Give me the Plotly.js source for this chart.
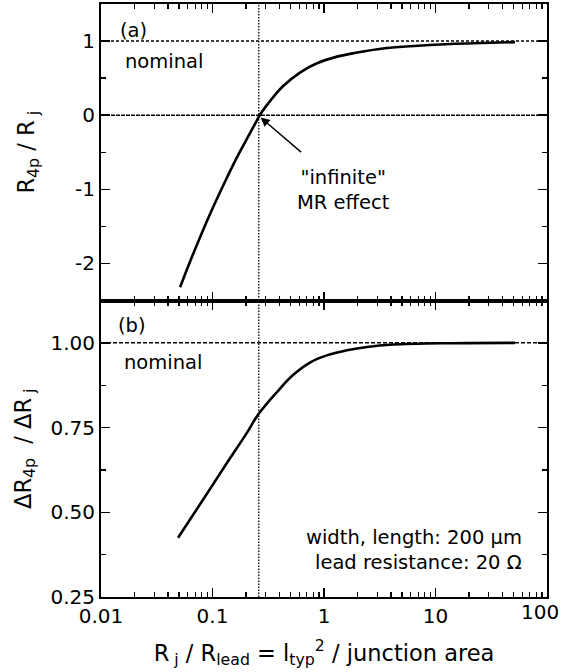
<!DOCTYPE html>
<html>
<head>
<meta charset="utf-8">
<script src="https://cdn.plot.ly/plotly-3.0.1.min.js"></script>
<style>html,body{margin:0;padding:0;background:#fff;}#chart{width:563px;height:672px;}</style>
</head>
<body>
<div id="chart"></div>
<script>
// Panel (a): R4p / Rj versus Rj / Rlead
const xA = [0.0512, 0.0631, 0.0794, 0.100, 0.126, 0.158, 0.200, 0.251, 0.265, 0.328, 0.428, 0.609, 0.865, 1.31, 1.98, 3.38, 5.9, 13.5, 51.6];
const yA = [-2.32, -1.97, -1.605, -1.26, -0.935, -0.63, -0.34, -0.065, 0.0, 0.19, 0.39, 0.575, 0.70, 0.79, 0.845, 0.90, 0.93, 0.96, 0.985];
// Panel (b): dR4p / dRj versus Rj / Rlead
const xB = [0.0491, 0.0822, 0.135, 0.204, 0.256, 0.379, 0.527, 0.748, 1.06, 1.61, 2.43, 4.16, 13.5, 51.6];
const yB = [0.425, 0.537, 0.646, 0.735, 0.788, 0.855, 0.905, 0.942, 0.963, 0.978, 0.988, 0.995, 0.999, 1.0];
// reference lines
const crossX = 0.26;          // zero crossing ("infinite" MR effect)
const nominalA = 1;           // nominal level, panel (a)
const zeroA = 0;              // zero level, panel (a)
const nominalB = 1;           // nominal level, panel (b)
const xSpan = [0.01, 100];
const ySpanA = [-2.5, 1.5];
const ySpanB = [0.25, 1.125];
// ticks
const xTickVals = [0.01, 0.1, 1, 10, 100];
const xTickText = ['0.01', '0.1', '1', '10', '100'];
const xMinorVals = [];
[0.01, 0.1, 1, 10].forEach(d => { for (let k = 2; k <= 9; k++) xMinorVals.push(d * k); });
const yTickValsA = [-2, -1, 0, 1];
const yTickTextA = ['-2', '-1', '0', '1'];
const yMinorA = [-1.5, -0.5, 0.5];
const yTickValsB = [0.25, 0.5, 0.75, 1.0];
const yTickTextB = ['0.25', '0.50', '0.75', '1.00'];
const yMinorB = [0.375, 0.625, 0.875];

const FONT = 'DejaVu Sans, Liberation Sans, Arial, sans-serif';
const black = '#000';
const TXT = 19.5;

// the last x tick label sits at the right edge of the figure; draw it right-aligned so it is not clipped
const lastIdx = xTickText.length - 1;
const shownTickText = xTickText.map((t, i) => i === lastIdx ? ' ' : t);

const traces = [
  // reference lines panel (a)
  {x: xSpan, y: [nominalA, nominalA], xaxis: 'x2', yaxis: 'y2', mode: 'lines',
   line: {color: black, width: 1.5, dash: '3px,2px'}, hoverinfo: 'skip', showlegend: false},
  {x: xSpan, y: [zeroA, zeroA], xaxis: 'x2', yaxis: 'y2', mode: 'lines',
   line: {color: black, width: 1.5, dash: '4px,1px'}, hoverinfo: 'skip', showlegend: false},
  {x: [crossX, crossX], y: ySpanA, xaxis: 'x2', yaxis: 'y2', mode: 'lines',
   line: {color: black, width: 1.3, dash: '1.5px,1.5px'}, hoverinfo: 'skip', showlegend: false},
  // reference lines panel (b)
  {x: xSpan, y: [nominalB, nominalB], xaxis: 'x', yaxis: 'y', mode: 'lines',
   line: {color: black, width: 1.5, dash: '4px,2px'}, hoverinfo: 'skip', showlegend: false},
  {x: [crossX, crossX], y: ySpanB, xaxis: 'x', yaxis: 'y', mode: 'lines',
   line: {color: black, width: 1.3, dash: '1.5px,1.5px'}, hoverinfo: 'skip', showlegend: false},
  // curves
  {x: xA, y: yA, xaxis: 'x2', yaxis: 'y2', mode: 'lines', name: 'R4p/Rj',
   line: {color: black, width: 2.6, shape: 'spline', smoothing: 1}, showlegend: false},
  {x: xB, y: yB, xaxis: 'x', yaxis: 'y', mode: 'lines', name: 'dR4p/dRj',
   line: {color: black, width: 2.6, shape: 'spline', smoothing: 1}, showlegend: false}
];

const xCommon = {
  type: 'log', range: [Math.log10(xSpan[0]), Math.log10(xSpan[1])],
  showline: true, linecolor: black, linewidth: 2, mirror: 'ticks',
  ticks: 'inside', ticklen: 9, tickwidth: 1.5, tickcolor: black,
  tickmode: 'array', tickvals: xTickVals, ticktext: shownTickText,
  minor: {tickmode: 'array', tickvals: xMinorVals, ticks: 'inside', ticklen: 5, tickwidth: 1.3, tickcolor: black, showgrid: false},
  showgrid: false, zeroline: false, tickfont: {family: FONT, size: 20, color: black}
};

const layout = {
  width: 563, height: 672,
  margin: {l: 101, r: 16, t: 4, b: 75},
  paper_bgcolor: '#fff', plot_bgcolor: '#fff',
  font: {family: FONT, color: black},
  showlegend: false,
  xaxis: Object.assign({}, xCommon, {
    domain: [0, 1], anchor: 'y', ticklabelstandoff: 0,
    title: {text: 'R<sub> j</sub> / R<sub>lead</sub> = l<sub>typ</sub><sup>2</sup> / junction area',
            font: {family: FONT, size: 22.5, color: black}, standoff: 18}
  }),
  xaxis2: Object.assign({}, xCommon, {
    domain: [0, 1], anchor: 'y2', matches: 'x', showticklabels: false
  }),
  yaxis: {
    domain: [0, 0.5], anchor: 'x', range: ySpanB,
    showline: true, linecolor: black, linewidth: 2, mirror: 'ticks',
    ticks: 'inside', ticklen: 9, tickwidth: 1.5, tickcolor: black,
    tickmode: 'array', tickvals: yTickValsB, ticktext: yTickTextB,
    minor: {tickmode: 'array', tickvals: yMinorB, ticks: 'inside', ticklen: 5, tickwidth: 1.3, tickcolor: black, showgrid: false},
    showgrid: false, zeroline: false, tickfont: {family: FONT, size: 20, color: black},
    title: {text: 'ΔR<sub>4p</sub>  / ΔR<sub> j</sub>', font: {family: FONT, size: 22.5, color: black}, standoff: 13}
  },
  yaxis2: {
    domain: [0.5, 1], anchor: 'x2', range: ySpanA,
    showline: true, linecolor: black, linewidth: 2, mirror: 'ticks',
    ticks: 'inside', ticklen: 9, tickwidth: 1.5, tickcolor: black,
    tickmode: 'array', tickvals: yTickValsA, ticktext: yTickTextA,
    minor: {tickmode: 'array', tickvals: yMinorA, ticks: 'inside', ticklen: 5, tickwidth: 1.3, tickcolor: black, showgrid: false},
    showgrid: false, zeroline: false, tickfont: {family: FONT, size: 20, color: black},
    title: {text: 'R<sub>4p</sub> / R<sub> j</sub>', font: {family: FONT, size: 22.5, color: black}, standoff: 34}
  },
  annotations: [
    {xref: 'x', yref: 'paper', x: Math.log10(xTickVals[lastIdx]), y: 0, xanchor: 'right', yanchor: 'top',
     xshift: 14, yshift: -1, text: xTickText[lastIdx], showarrow: false, font: {family: FONT, size: 20, color: black}},
    {xref: 'x2 domain', yref: 'y2 domain', x: 0.038, y: 0.91, xanchor: 'left', yanchor: 'middle',
     text: '(a)', showarrow: false, font: {family: FONT, size: TXT, color: black}},
    {xref: 'x2 domain', yref: 'y2 domain', x: 0.05, y: 0.805, xanchor: 'left', yanchor: 'middle',
     text: 'nominal', showarrow: false, font: {family: FONT, size: TXT, color: black}},
    {xref: 'x domain', yref: 'y domain', x: 0.034, y: 0.916, xanchor: 'left', yanchor: 'middle',
     text: '(b)', showarrow: false, font: {family: FONT, size: TXT, color: black}},
    {xref: 'x domain', yref: 'y domain', x: 0.047, y: 0.79, xanchor: 'left', yanchor: 'middle',
     text: 'nominal', showarrow: false, font: {family: FONT, size: TXT, color: black}},
    {xref: 'x domain', yref: 'y domain', x: 0.948, y: 0.202, xanchor: 'right', yanchor: 'middle',
     text: 'width, length: 200 μm', showarrow: false, font: {family: FONT, size: TXT, color: black}},
    {xref: 'x domain', yref: 'y domain', x: 0.948, y: 0.115, xanchor: 'right', yanchor: 'middle',
     text: 'lead resistance: 20 Ω', showarrow: false, font: {family: FONT, size: TXT, color: black}},
    {xref: 'x2', yref: 'y2', x: Math.log10(1.51), y: -1.01, xanchor: 'center', yanchor: 'middle',
     text: '"infinite"<br>MR effect', showarrow: false, font: {family: FONT, size: TXT, color: black}},
    {xref: 'x2', yref: 'y2', x: Math.log10(0.27), y: -0.03, ax: 42, ay: 36, axref: 'pixel', ayref: 'pixel',
     text: '', showarrow: true, arrowhead: 2, arrowsize: 1.3, arrowwidth: 1.4, arrowcolor: black, standoff: 0}
  ]
};

Plotly.newPlot('chart', traces, layout, {displayModeBar: false, staticPlot: true});
</script>
</body>
</html>
